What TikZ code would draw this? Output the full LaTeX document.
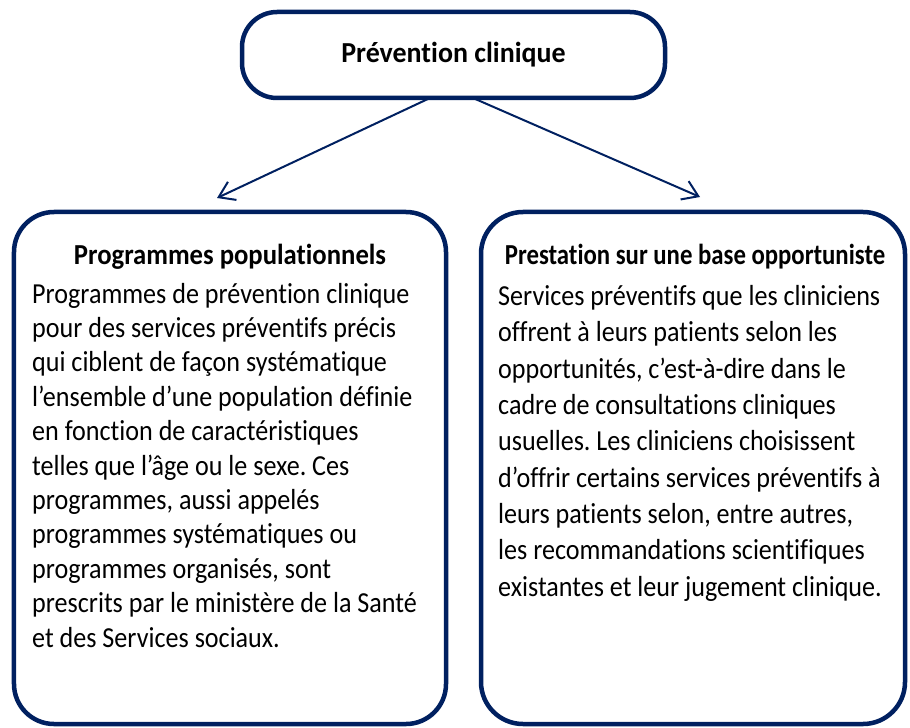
\documentclass[tikz,border=0pt]{standalone}
\usepackage{fontspec}
\setmainfont{Carlito}[FakeStretch=0.9, Ligatures=NoCommon]
\newfontfamily\toptitlefont{Carlito}[FakeStretch=0.963, Ligatures=NoCommon]
\newfontfamily\lefttitlefont{Carlito}[FakeStretch=0.92, Ligatures=NoCommon]
\newfontfamily\righttitlefont{Carlito}[FakeStretch=0.854, Ligatures=NoCommon]
\usetikzlibrary{arrows.meta}
\definecolor{navy}{RGB}{0,32,96}
\frenchspacing
\tikzset{
  boxshape/.style={draw=navy, line width=4.5bp, fill=white, inner sep=0pt, outer sep=0pt},
  titletext/.style={anchor=base, inner sep=0pt},
  bodytext/.style={anchor=base west, inner sep=0pt, align=left},
  link/.style={draw=navy, line width=2bp, -{Straight Barb[length=15bp,width=20bp,line width=2bp]}}
}
\begin{document}
\begin{tikzpicture}[x=1bp,y=-1bp]
\useasboundingbox (0,0) rectangle (910,728);
\node[boxshape, rounded corners=35bp, minimum width=423bp, minimum height=86bp] (top) at (453.5,55) {};
\node[boxshape, rounded corners=40bp, minimum width=432bp, minimum height=512bp] (left) at (230,468) {};
\node[boxshape, rounded corners=42bp, minimum width=424bp, minimum height=512bp] (right) at (693,468) {};
\node[titletext, font=\toptitlefont\fontsize{29bp}{34bp}\selectfont\bfseries] (toptitle) at (453.5,63) {Prévention clinique};
\node[titletext, font=\lefttitlefont\fontsize{29bp}{34bp}\selectfont\bfseries] (lefttitle) at (230,264) {Programmes populationnels};
\node[titletext, font=\righttitlefont\fontsize{29bp}{34bp}\selectfont\bfseries] (righttitle) at (695,264) {Prestation sur une base opportuniste};
\node[bodytext, font=\fontsize{29bp}{34.4bp}\selectfont] (leftbody) at (32,647) {Programmes de prévention clinique\\
pour des services préventifs précis\\
qui ciblent de façon systématique\\
l’ensemble d’une population définie\\
en fonction de caractéristiques\\
telles que l’âge ou le sexe. Ces\\
programmes, aussi appelés\\
programmes systématiques ou\\
programmes organisés, sont\\
prescrits par le ministère de la Santé\\
et des Services sociaux.};
\node[bodytext, font=\fontsize{29bp}{36.3bp}\selectfont] (rightbody) at (498,596) {Services préventifs que les cliniciens\\
offrent à leurs patients selon les\\
opportunités, c’est-à-dire dans le\\
cadre de consultations cliniques\\
usuelles. Les cliniciens choisissent\\
d’offrir certains services préventifs à\\
leurs patients selon, entre autres,\\
les recommandations scientifiques\\
existantes et leur jugement clinique.};
\coordinate (lefttip) at (217,198);
\coordinate (righttip) at (700,197);
\draw[link] ([xshift=-23.5bp]top.south) -- (lefttip);
\draw[link] ([xshift=19.5bp]top.south) -- (righttip);
\end{tikzpicture}
\end{document}
